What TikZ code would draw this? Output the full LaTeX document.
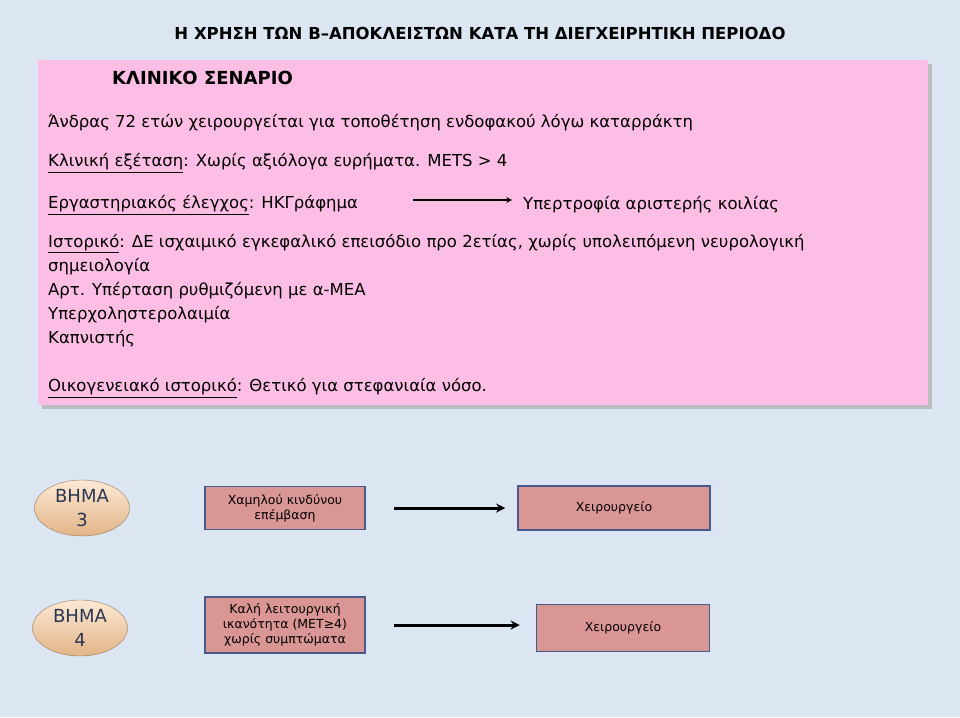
\documentclass[tikz,border=0pt]{standalone}
\usepackage{fontspec}
\setmainfont{DejaVu Sans}
\usetikzlibrary{shadows,shapes.geometric}
\definecolor{bgblue}{RGB}{220,230,242}
\definecolor{scenpink}{RGB}{252,190,228}
\definecolor{boxred}{RGB}{218,150,148}
\definecolor{boxblue}{RGB}{70,90,140}
\definecolor{stepora}{RGB}{250,200,150}
\tikzset{
  steptag/.style={ellipse, minimum width=95pt, minimum height=56pt, inner sep=0pt,
    top color=stepora!40!white, bottom color=stepora!90!black, text=boxblue!60!black,
    font=\fontsize{18}{24}\selectfont, align=center, draw=stepora!60!black},
  actbox/.style={draw=boxblue, line width=1.5pt, fill=boxred, align=center, font=\fontsize{12.5}{15}\selectfont},
  txt/.style={anchor=west, inner sep=0pt, font=\fontsize{16.5}{24}\selectfont},
  flowarrow/.style={-stealth, line width=3pt}
}
\begin{document}
\begin{tikzpicture}[x=1pt,y=-1pt]
  \fill[bgblue] (0,0) rectangle (960,717);
  \useasboundingbox (0,0) rectangle (960,717);
  \node[font=\bfseries\fontsize{16.5}{20}\selectfont] (title) at (480,33) {Η ΧΡΗΣΗ ΤΩΝ Β--ΑΠΟΚΛΕΙΣΤΩΝ ΚΑΤΑ ΤΗ ΔΙΕΓΧΕΙΡΗΤΙΚΗ ΠΕΡΙΟΔΟ};
  \fill[gray!70, opacity=0.6] (42,64) rectangle (932,409);
  \fill[scenpink] (38,60) rectangle (928,405);
  \node[txt, font=\bfseries\fontsize{18}{22}\selectfont] (head) at (112,78) {ΚΛΙΝΙΚΟ ΣΕΝΑΡΙΟ};
  \node[txt] (l1) at (48,123) {Άνδρας 72 ετών χειρουργείται για τοποθέτηση ενδοφακού λόγω καταρράκτη};
  \node[txt] (l2) at (48,163) {\underline{Κλινική εξέταση}: Χωρίς αξιόλογα ευρήματα. METS > 4};
  \node[txt] (l3) at (48,205) {\underline{Εργαστηριακός έλεγχος}: ΗΚΓράφημα};
  \node[txt] (l3b) at (523,205) {Υπερτροφία αριστερής κοιλίας};
  \coordinate (ecgstart) at (413,200);
  \coordinate (ecgend) at (512,200);
  \draw[-stealth, line width=1.5pt] (ecgstart) -- (ecgend);
  \node[txt, align=left, anchor=north west] (l4) at (48,234) {\underline{Ιστορικό}: ΔΕ ισχαιμικό εγκεφαλικό επεισόδιο προ 2ετίας, χωρίς υπολειπόμενη νευρολογική\\σημειολογία\\Αρτ. Υπέρταση ρυθμιζόμενη με α-ΜΕΑ\\Υπερχοληστερολαιμία\\Καπνιστής};
  \node[txt] (l5) at (48,388) {\underline{Οικογενειακό ιστορικό}: Θετικό για στεφανιαία νόσο.};
  % step 3
  \node[steptag] (s3) at (82,508) {ΒΗΜΑ\\3};
  \node[actbox, minimum width=160pt, minimum height=43pt] (a3) at (285,508) {Χαμηλού κινδύνου\\επέμβαση};
  \node[actbox, minimum width=192pt, minimum height=44pt] (b3) at (614,508) {Χειρουργείο};
  \draw[flowarrow] ([xshift=28pt]a3.east) -- ([xshift=-12pt]b3.west);
  % step 4
  \node[steptag] (s4) at (80,628) {ΒΗΜΑ\\4};
  \node[actbox, minimum width=160pt, minimum height=56pt, inner sep=1pt] (a4) at (285,625) {Καλή λειτουργική\\ικανότητα (ΜΕΤ≥4)\\χωρίς συμπτώματα};
  \node[actbox, minimum width=173pt, minimum height=47pt] (b4) at (623,628) {Χειρουργείο};
  \draw[flowarrow] ([xshift=28pt]a4.east) -- ([xshift=-16pt]b4.west |- a4.east);
\end{tikzpicture}
\end{document}
